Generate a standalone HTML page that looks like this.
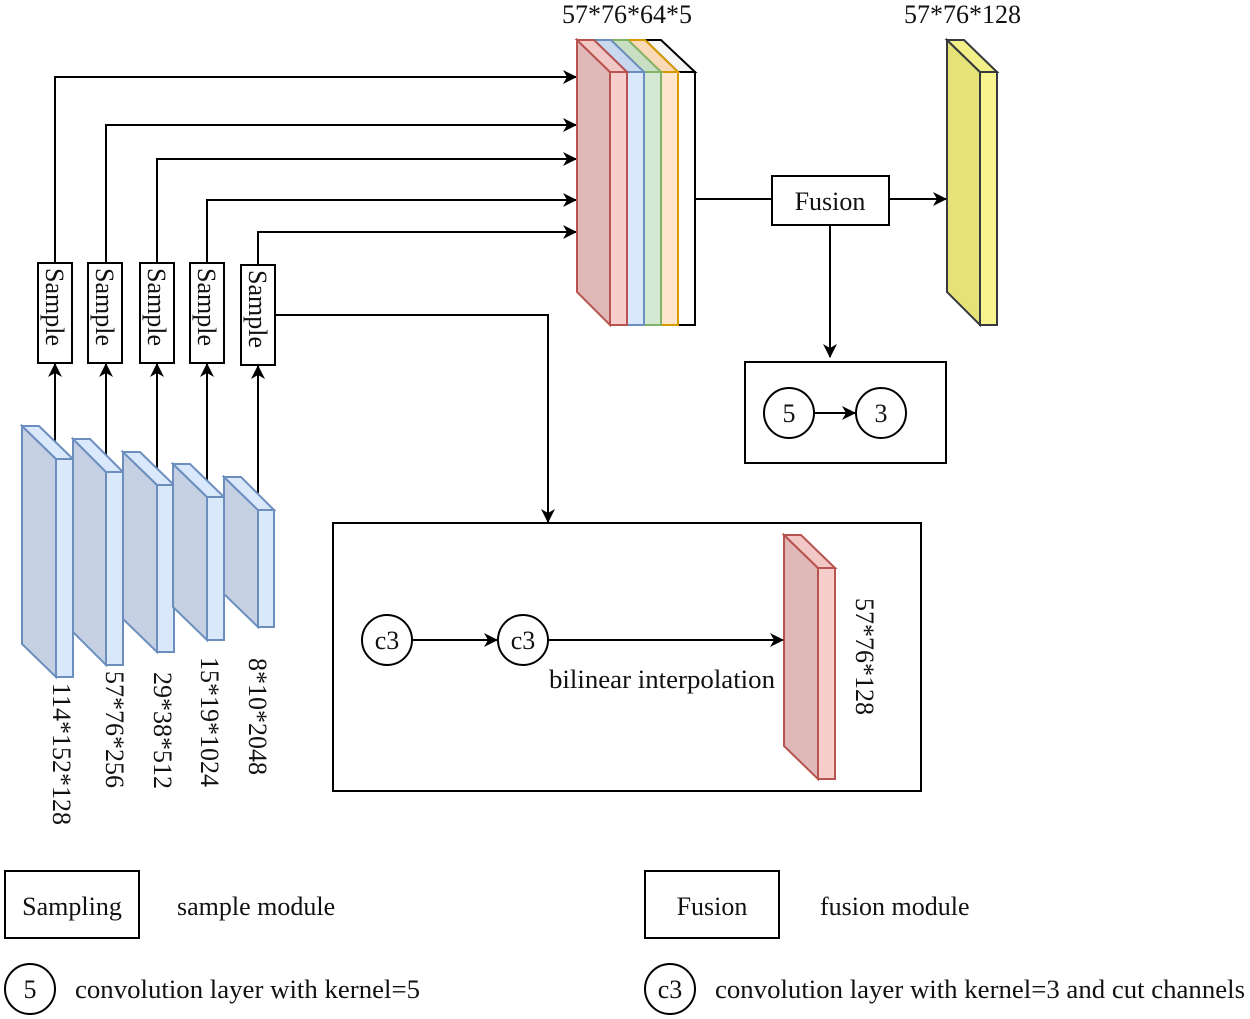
<!DOCTYPE html>
<html><head><meta charset="utf-8"><style>
html,body{margin:0;padding:0;background:#fff;}
svg{display:block;}
text{font-family:"Liberation Serif",serif;fill:#111;}
</style></head><body>
<svg width="1250" height="1019" viewBox="0 0 1250 1019" xmlns="http://www.w3.org/2000/svg">
<defs>
<marker id="ar" markerWidth="14" markerHeight="14" refX="13" refY="7" orient="auto" markerUnits="userSpaceOnUse">
<path d="M0,0 L14,7 L0,14 L4,7 Z" fill="#000"/>
</marker>
</defs>
<g stroke="#000" stroke-width="2" fill="none">
<polyline points="55,263 55,77 576,77" marker-end="url(#ar)"/>
<polyline points="106,263 106,125 576,125" marker-end="url(#ar)"/>
<polyline points="157,263 157,159 576,159" marker-end="url(#ar)"/>
<polyline points="207,263 207,200 576,200" marker-end="url(#ar)"/>
<polyline points="258,265 258,232 576,232" marker-end="url(#ar)"/>
<polyline points="275,315 548,315 548,522" marker-end="url(#ar)"/>
<line x1="55" y1="442" x2="55" y2="364" marker-end="url(#ar)"/>
<line x1="106" y1="455" x2="106" y2="364" marker-end="url(#ar)"/>
<line x1="157" y1="468" x2="157" y2="364" marker-end="url(#ar)"/>
<line x1="207" y1="480" x2="207" y2="364" marker-end="url(#ar)"/>
<line x1="258" y1="493" x2="258" y2="366" marker-end="url(#ar)"/>
</g>
<g stroke="#6c8ebf" stroke-width="2">
<polygon points="56,459 22,426 22,644 56,677" fill="#c5d1e3"/><polygon points="56,459 22,426 39,426 73,459" fill="#dae8fc"/><rect x="56" y="459" width="17" height="218" fill="#dae8fc"/>
<polygon points="106,472 73,439 73,632 106,665" fill="#c5d1e3"/><polygon points="106,472 73,439 90,439 123,472" fill="#dae8fc"/><rect x="106" y="472" width="17" height="193" fill="#dae8fc"/>
<polygon points="157,485 123,452 123,619 157,652" fill="#c5d1e3"/><polygon points="157,485 123,452 140,452 174,485" fill="#dae8fc"/><rect x="157" y="485" width="17" height="167" fill="#dae8fc"/>
<polygon points="207,497 173,464 173,607 207,640" fill="#c5d1e3"/><polygon points="207,497 173,464 190,464 224,497" fill="#dae8fc"/><rect x="207" y="497" width="17" height="143" fill="#dae8fc"/>
<polygon points="258,510 224,477 224,594 258,627" fill="#c5d1e3"/><polygon points="258,510 224,477 241,477 274,510" fill="#dae8fc"/><rect x="258" y="510" width="16" height="117" fill="#dae8fc"/>
</g>
<g stroke="#000" stroke-width="2" fill="#fff">
<rect x="38" y="263" width="34" height="100"/>
<rect x="88" y="263" width="34" height="100"/>
<rect x="140" y="263" width="34" height="100"/>
<rect x="190" y="263" width="34" height="100"/>
<rect x="241" y="265" width="34" height="100"/>
</g>
<g font-size="26">
<text transform="translate(46,268) rotate(90)">Sample</text>
<text transform="translate(96,268) rotate(90)">Sample</text>
<text transform="translate(148,268) rotate(90)">Sample</text>
<text transform="translate(198,268) rotate(90)">Sample</text>
<text transform="translate(249,270) rotate(90)">Sample</text>
<text transform="translate(53,683) rotate(90)">114*152*128</text>
<text transform="translate(106,671) rotate(90)">57*76*256</text>
<text transform="translate(154,672) rotate(90)">29*38*512</text>
<text transform="translate(201,657) rotate(90)">15*19*1024</text>
<text transform="translate(249,658) rotate(90)">8*10*2048</text>
</g>
<g stroke-width="2">
<polygon points="678,72 645,40 661,40 695,72" fill="#f5f5f5" stroke="#000"/><rect x="678" y="72" width="17" height="253" fill="#fff" stroke="#000"/>
<polygon points="661,72 628,40 645,40 678,72" fill="#fad9b8" stroke="#d79b00"/><rect x="661" y="72" width="17" height="253" fill="#ffe6cc" stroke="#d79b00"/>
<polygon points="644,72 611,40 628,40 661,72" fill="#c9dfc3" stroke="#82b366"/><rect x="644" y="72" width="17" height="253" fill="#d5e8d4" stroke="#82b366"/>
<polygon points="627,72 594,40 611,40 644,72" fill="#c8d8ee" stroke="#6c8ebf"/><rect x="627" y="72" width="17" height="253" fill="#dae8fc" stroke="#6c8ebf"/>
<polygon points="610,72 577,40 577,292 610,325" fill="#e0b8b7" stroke="#b85450"/><polygon points="610,72 577,40 594,40 627,72" fill="#f2c8c7" stroke="#b85450"/><rect x="610" y="72" width="17" height="253" fill="#f8cecc" stroke="#b85450"/>
<polygon points="980,72 947,40 947,292 980,325" fill="#e5e278" stroke="#36393d"/><polygon points="980,72 947,40 964,40 997,72" fill="#f2ee88" stroke="#36393d"/><rect x="980" y="72" width="17" height="253" fill="#f9f48d" stroke="#36393d"/>
<polygon points="818,568 784,535 784,746 818,779" fill="#e0b8b7" stroke="#b85450"/><polygon points="818,568 784,535 801,535 835,568" fill="#f2c8c7" stroke="#b85450"/><rect x="818" y="568" width="17" height="211" fill="#f8cecc" stroke="#b85450"/>
</g>
<text x="562" y="23" font-size="26">57*76*64*5</text>
<text x="904" y="23" font-size="26">57*76*128</text>
<g stroke="#000" stroke-width="2" fill="none">
<line x1="695" y1="199" x2="772" y2="199"/>
<line x1="889" y1="199" x2="946" y2="199" marker-end="url(#ar)"/>
<line x1="830" y1="225" x2="830" y2="357" marker-end="url(#ar)"/>
<rect x="772" y="176" width="117" height="49" fill="#fff"/>
<rect x="745" y="362" width="201" height="101"/>
<circle cx="789" cy="413" r="25"/><circle cx="881" cy="413" r="25"/>
<line x1="814" y1="413" x2="855" y2="413" marker-end="url(#ar)"/>
<rect x="333" y="523" width="588" height="268"/>
<circle cx="387" cy="640" r="25"/><circle cx="523" cy="640" r="25"/>
<line x1="412" y1="640" x2="497" y2="640" marker-end="url(#ar)"/>
<line x1="548" y1="640" x2="783" y2="640" marker-end="url(#ar)"/>
<rect x="5" y="871" width="134" height="67"/>
<rect x="645" y="871" width="134" height="67"/>
<circle cx="30" cy="989" r="25"/><circle cx="670" cy="989" r="25"/>
</g>
<text x="830" y="210" font-size="26" text-anchor="middle">Fusion</text>
<text x="789" y="422" font-size="26" text-anchor="middle">5</text>
<text x="881" y="422" font-size="26" text-anchor="middle">3</text>
<text x="387" y="649" font-size="26" text-anchor="middle">c3</text>
<text x="523" y="649" font-size="26" text-anchor="middle">c3</text>
<text x="549" y="688" font-size="26" textLength="226" lengthAdjust="spacingAndGlyphs">bilinear interpolation</text>
<text transform="translate(856,598) rotate(90)" font-size="26">57*76*128</text>
<text x="72" y="915" font-size="26" text-anchor="middle">Sampling</text>
<text x="177" y="915" font-size="26">sample module</text>
<text x="712" y="915" font-size="26" text-anchor="middle">Fusion</text>
<text x="820" y="915" font-size="26">fusion module</text>
<text x="30" y="998" font-size="26" text-anchor="middle">5</text>
<text x="670" y="998" font-size="26" text-anchor="middle">c3</text>
<text x="75" y="998" font-size="26" textLength="345" lengthAdjust="spacingAndGlyphs">convolution layer with kernel=5</text>
<text x="715" y="998" font-size="26" textLength="530" lengthAdjust="spacingAndGlyphs">convolution layer with kernel=3 and cut channels</text>
</svg>
</body></html>
